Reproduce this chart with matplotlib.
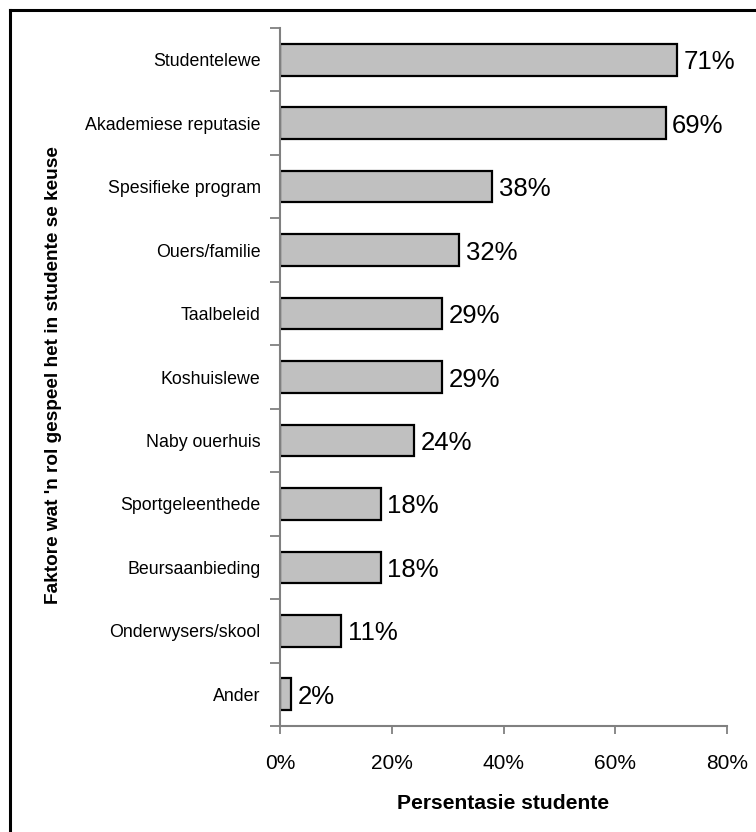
import matplotlib
matplotlib.use("Agg")
import matplotlib.pyplot as plt
from matplotlib.lines import Line2D
from matplotlib.ticker import FuncFormatter, FixedLocator

plt.rcParams['font.family'] = ['Liberation Sans', 'DejaVu Sans']

categories = ["Studentelewe", "Akademiese reputasie", "Spesifieke program",
              "Ouers/familie", "Taalbeleid", "Koshuislewe", "Naby ouerhuis",
              "Sportgeleenthede", "Beursaanbieding", "Onderwysers/skool", "Ander"]
values = [71, 69, 38, 32, 29, 29, 24, 18, 18, 11, 2]
x_ticks = [0, 20, 40, 60, 80]

W, H = 756, 832
fig = plt.figure(figsize=(W / 100, H / 100), dpi=100)
ax = fig.add_axes([280 / W, 1 - 726 / H, 447 / W, 698 / H])

n = len(categories)
ypos = list(range(n))
ax.barh(ypos, values, height=0.5, color="#c0c0c0", edgecolor="black", linewidth=1.6, zorder=2)
ax.set_ylim(n - 0.5, -0.5)
ax.set_xlim(0, 80)

for y, v in zip(ypos, values):
    ax.text(v + 1.2, y + 0.04, f"{v}%", va="center", ha="left", fontsize=18.5, color="black")

# category labels without ticks, boundary ticks in between
ax.set_yticks(ypos)
ax.set_yticklabels(categories, fontsize=12.8)
ax.tick_params(axis="y", which="major", length=0, pad=14)
ax.yaxis.set_minor_locator(FixedLocator([i - 0.5 for i in range(n + 1)]))
ax.tick_params(axis="y", which="minor", length=7, width=1.3, color="#808080", direction="out")

ax.xaxis.set_major_locator(FixedLocator(x_ticks))
ax.xaxis.set_major_formatter(FuncFormatter(lambda v, p: f"{int(v)}%"))
ax.tick_params(axis="x", length=6, width=1.3, color="#808080", labelsize=15, pad=14)

for s in ("top", "right"):
    ax.spines[s].set_visible(False)
for s in ("left", "bottom"):
    ax.spines[s].set_color("#808080")
    ax.spines[s].set_linewidth(1.5)

ax.set_xlabel("Persentasie studente", fontsize=15.2, fontweight="bold", labelpad=15)
fig.text(54 / W, 1 - 375 / H, "Faktore wat 'n rol gespeel het in studente se keuse",
         rotation=90, ha="center", va="center", fontsize=13.7, fontweight="bold")

# outer frame (top and left edges)
fig.add_artist(Line2D([10 / W, 1], [1 - 10 / H, 1 - 10 / H], color="black", linewidth=2.2, transform=fig.transFigure))
fig.add_artist(Line2D([10 / W, 10 / W], [0, 1 - 10 / H], color="black", linewidth=2.2, transform=fig.transFigure))

fig.savefig("out.png", dpi=100)
